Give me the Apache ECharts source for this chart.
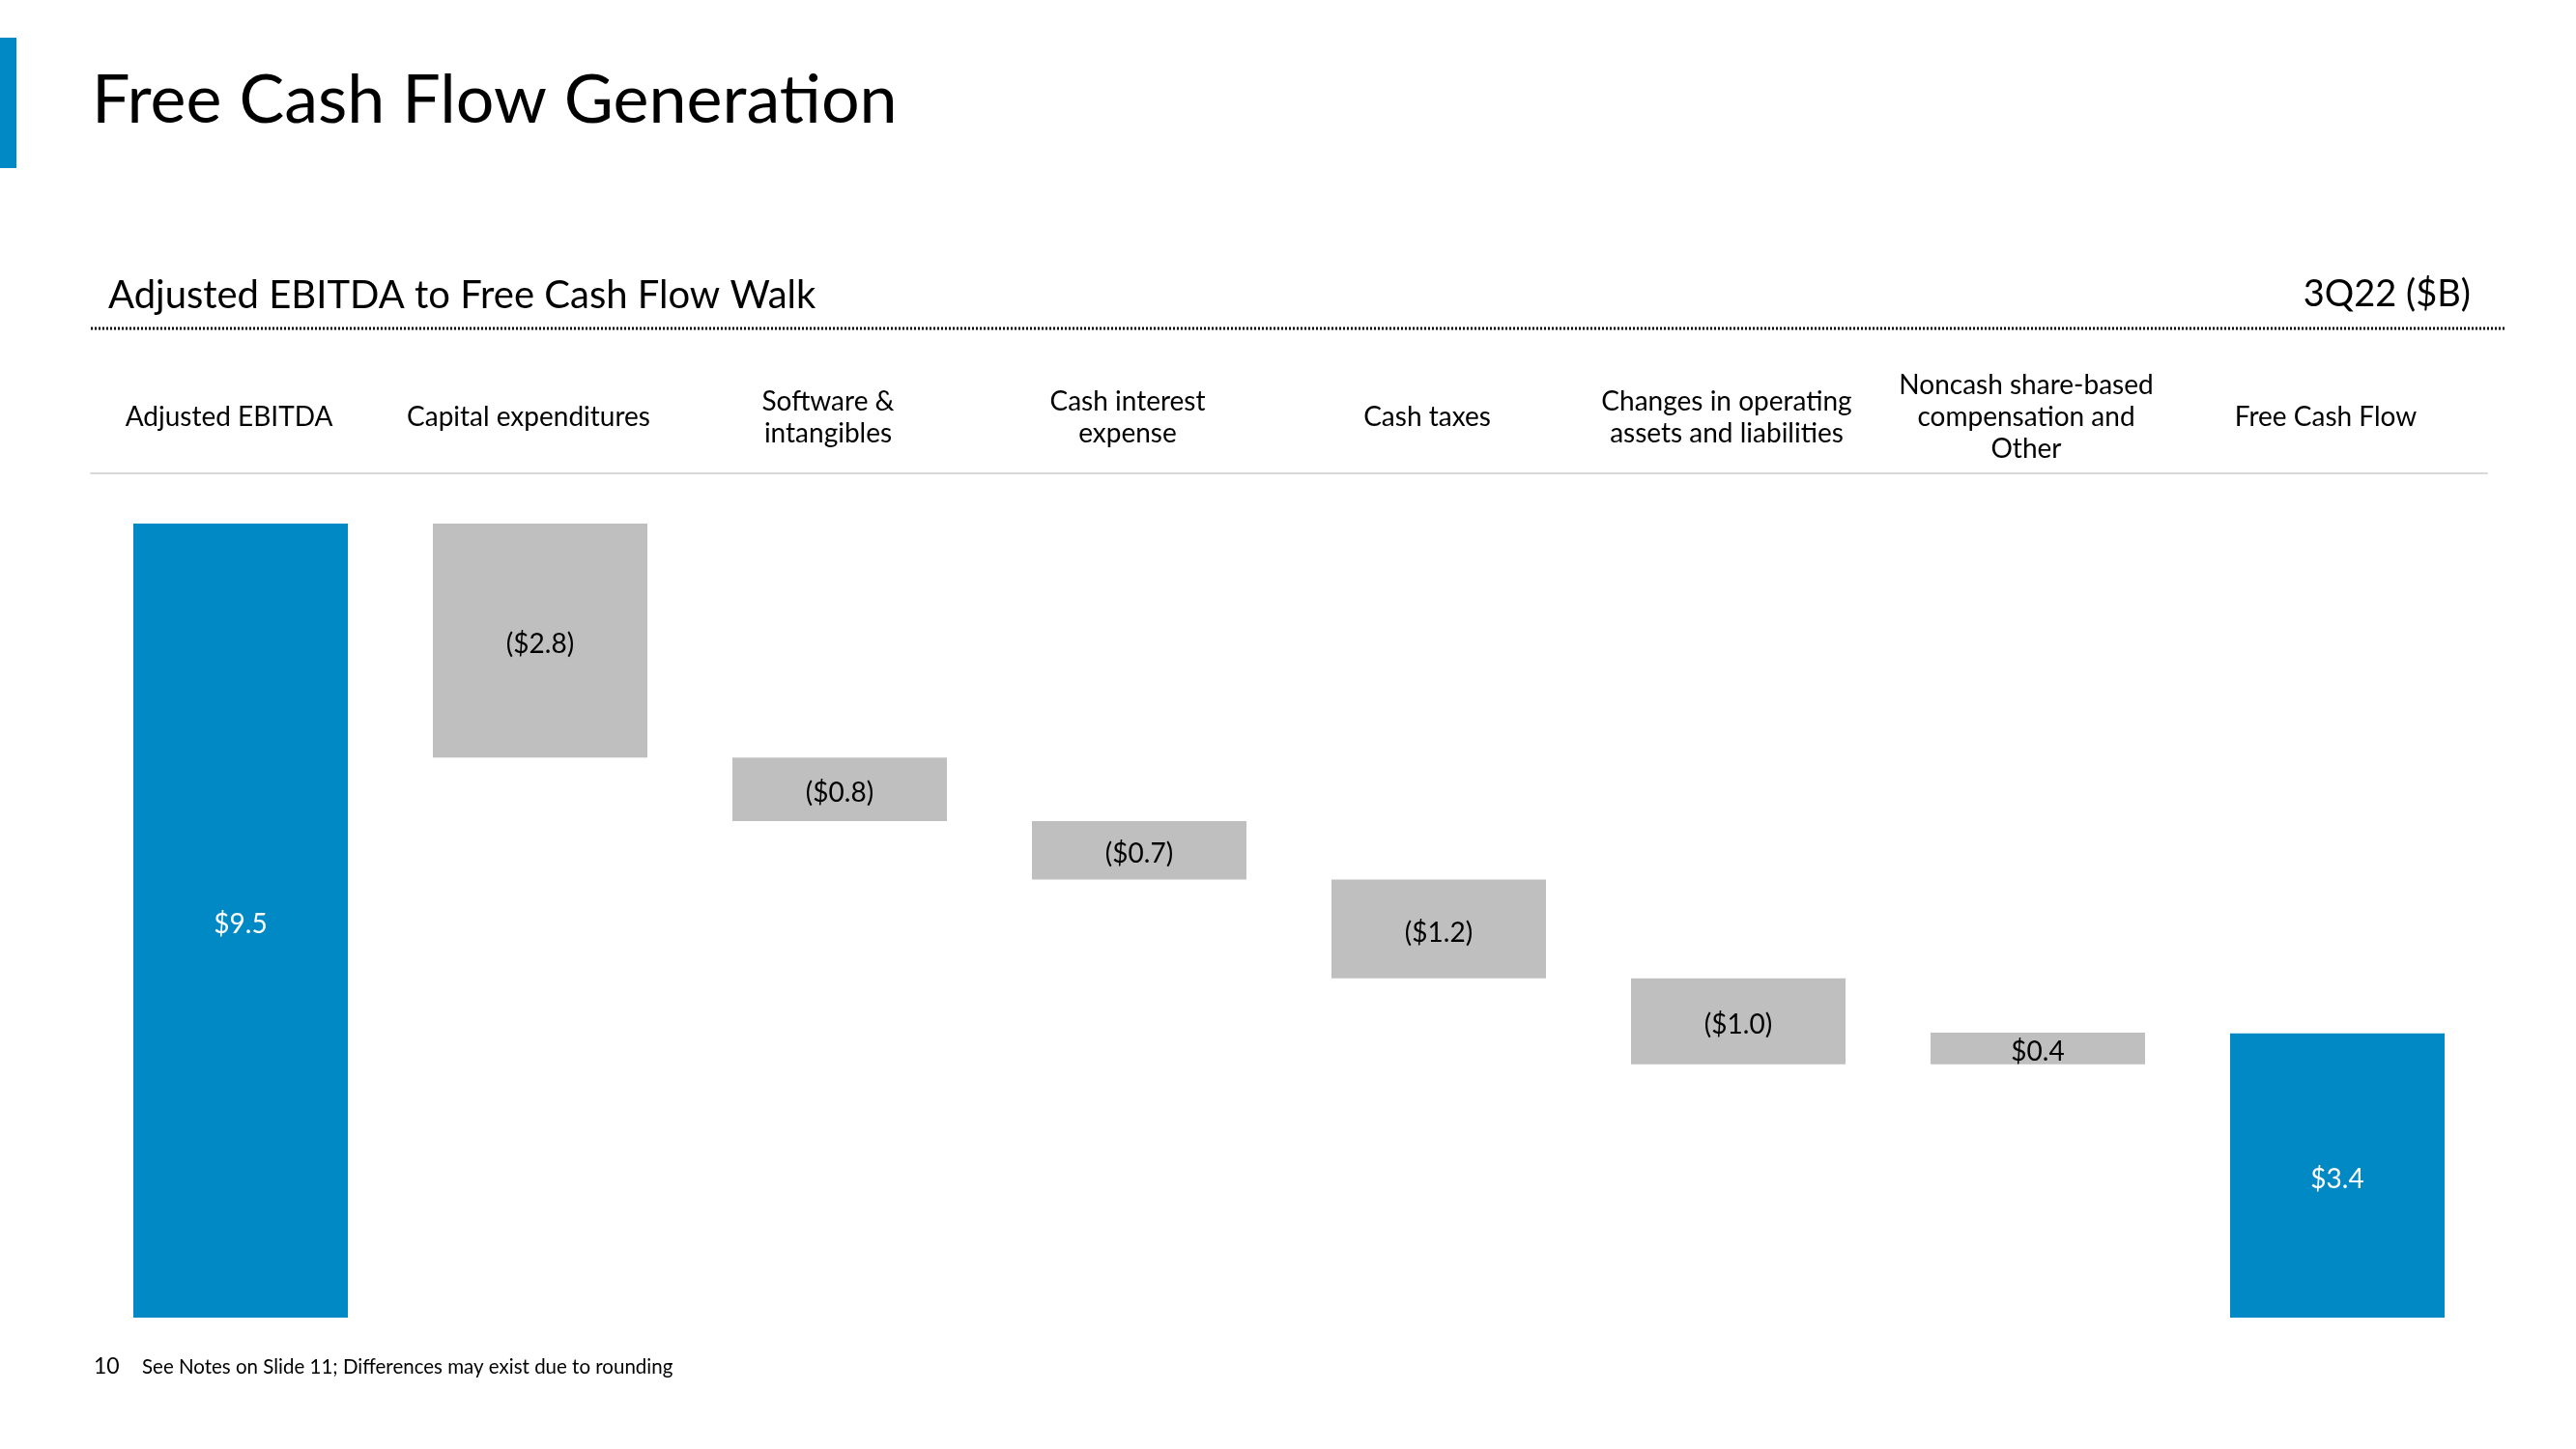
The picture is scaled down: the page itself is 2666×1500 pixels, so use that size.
<!DOCTYPE html>
<html>
<head>
<meta charset="utf-8">
<script src="https://cdn.jsdelivr.net/npm/echarts@6/dist/echarts.min.js"></script>
<style>
html,body{margin:0;padding:0;background:#fff;}
#chart{width:2666px;height:1500px;}
</style>
</head>
<body>
<div id="chart"></div>
<script>
// ---- data ----
const categories = [
  'Adjusted EBITDA',
  'Capital expenditures',
  'Software &\nintangibles',
  'Cash interest\nexpense',
  'Cash taxes',
  'Changes in operating\nassets and liabilities',
  'Noncash share-based\ncompensation and\nOther',
  'Free Cash Flow'
];
// step values ($B); first and last are totals
const stepValues = [9.5, -2.8, -0.76, -0.70, -1.18, -1.03, 0.38, 3.4];
const isTotal = [true, false, false, false, false, false, false, true];

// ---- build waterfall ----
const baseData = [];
const barData = [];
let running = 0;
stepValues.forEach((v, i) => {
  if (isTotal[i]) {
    baseData.push(0);
    barData.push({ value: v, raw: v, total: true });
    running = v;
  } else {
    const next = running + v;
    baseData.push(Math.min(running, next));
    barData.push({ value: Math.abs(v), raw: v, total: false });
    running = next;
  }
});

const BLUE = '#0089C4';
const GRAY = '#BFBFBF';
const FONT = 'Lato, "Open Sans", sans-serif';

const chart = echarts.init(document.getElementById('chart'));
chart.setOption({
  backgroundColor: '#ffffff',
  animation: false,
  title: [
    { text: 'Free Cash Flow Generation', left: 90, top: 64,
      textStyle: { fontFamily: FONT, fontSize: 70, fontWeight: 'normal', color: '#000' } },
    { text: 'Adjusted EBITDA to Free Cash Flow Walk', left: 107, top: 281,
      textStyle: { fontFamily: FONT, fontSize: 40, fontWeight: 'normal', color: '#000' } },
    { text: '3Q22 ($B)', right: 104, top: 281,
      textStyle: { fontFamily: FONT, fontSize: 38, fontWeight: 'normal', color: '#000' } },
    { text: '10', left: 92, top: 1398,
      textStyle: { fontFamily: FONT, fontSize: 23, fontWeight: 'normal', color: '#000' } },
    { text: 'See Notes on Slide 11; Differences may exist due to rounding', left: 142, top: 1400,
      textStyle: { fontFamily: FONT, fontSize: 20.5, fontWeight: 'normal', color: '#000' } }
  ],
  graphic: [
    { type: 'rect', left: 0, top: 39, shape: { width: 17, height: 135 }, style: { fill: BLUE } },
    { type: 'line', shape: { x1: 94, y1: 340, x2: 2592, y2: 340 },
      style: { stroke: '#000', lineWidth: 3, lineDash: [2, 2] } }
  ],
  grid: { left: 94, right: 92, top: 490, bottom: 136 },
  xAxis: {
    type: 'category',
    position: 'top',
    data: categories,
    axisLine: { show: true, onZero: false, lineStyle: { color: '#D9D9D9', width: 2 } },
    axisTick: { show: false },
    axisLabel: {
      interval: 0,
      margin: 58,
      verticalAlign: 'middle',
      align: 'center',
      padding: [0, 24, 0, 0],
      fontFamily: FONT,
      fontSize: 28,
      lineHeight: 33,
      color: '#000'
    }
  },
  yAxis: {
    type: 'value',
    min: 0,
    max: 10.1,
    show: false,
    splitLine: { show: false }
  },
  series: [
    {
      name: 'base',
      type: 'bar',
      stack: 'wf',
      barWidth: 222,
      itemStyle: { color: 'transparent' },
      emphasis: { disabled: true },
      data: baseData
    },
    {
      name: 'value',
      type: 'bar',
      stack: 'wf',
      barWidth: 222,
      data: barData.map(d => ({
        value: d.value,
        raw: d.raw,
        itemStyle: { color: d.total ? BLUE : GRAY },
        label: { color: d.total ? '#ffffff' : '#000000' }
      })),
      label: {
        show: true,
        position: 'inside',
        offset: [0, 4],
        fontFamily: FONT,
        fontSize: 28,
        formatter: p => {
          const v = p.data.raw;
          const s = '$' + Math.abs(v).toFixed(1);
          return v < 0 ? '(' + s + ')' : s;
        }
      }
    }
  ]
});
</script>
</body>
</html>
